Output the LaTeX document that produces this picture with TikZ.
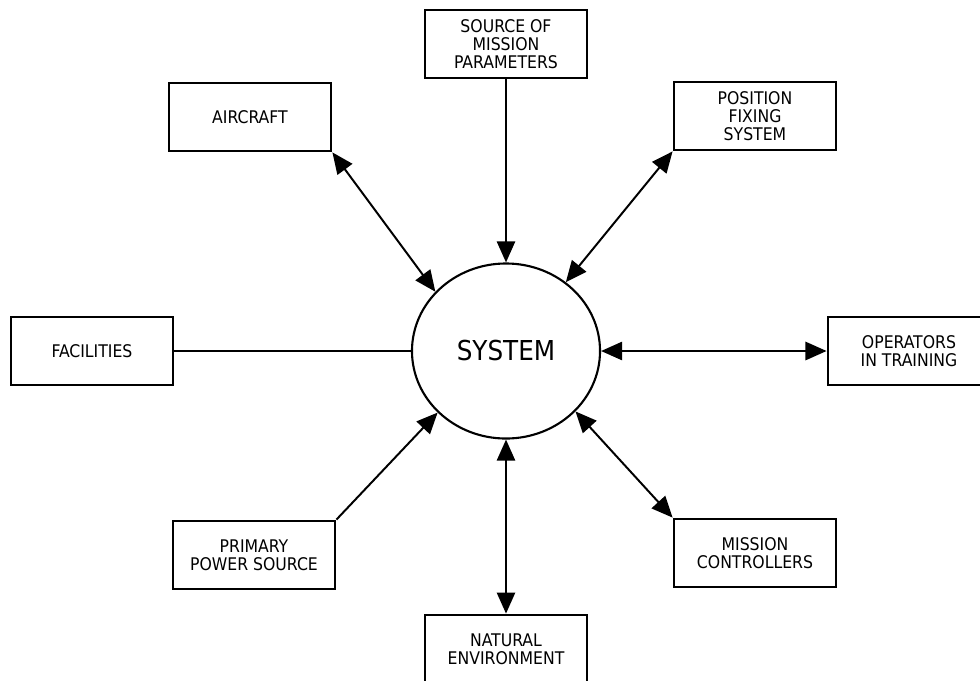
\documentclass[tikz,border=0pt]{standalone}
\usepackage{fontspec}
\setmainfont{DejaVu Sans Condensed}
\usetikzlibrary{shapes.geometric,arrows.meta}

\begin{document}
\begin{tikzpicture}
    [
        x=0.025cm, y=-0.025cm,
        >={Triangle[length=15pt,width=13pt]},
        every node/.style={
            font=\fontsize{12.4}{13}\selectfont, align=center
        },
        box/.style={draw, line width=2pt,
            minimum width=4.05cm, minimum height=1.7cm},
        hub/.style={ellipse, draw, line width=1.5pt,
            minimum width=4.7cm, minimum height=4.375cm,
            font=\fontsize{19.5}{22}\selectfont},
        link/.style={line width=1.4pt}
    ]
    \useasboundingbox (0,0) rectangle (980,680);

    % centre
    \node[hub] (sys) at (506,351) {SYSTEM};

    % surrounding boxes
    \node[box] (src) at (506,44) {SOURCE OF\\MISSION\\PARAMETERS};
    \node[box] (air) at (250,117) {AIRCRAFT};
    \node[box] (pos) at (755,116) {POSITION\\FIXING\\SYSTEM};
    \node[box] (fac) at (92,351) {FACILITIES};
    \node[box] (ops) at (909,351) {OPERATORS\\IN TRAINING};
    \node[box] (pwr) at (254,555) {PRIMARY\\POWER SOURCE};
    \node[box] (ctl) at (755,553) {MISSION\\CONTROLLERS};
    \node[box] (env) at (506,649) {NATURAL\\ENVIRONMENT};

    % connectors
    \draw[link,->] (src) -- (sys);
    \draw[link,<->] (air.south east) -- (sys.140);
    \draw[link,<->] (pos.south west) -- (sys.49);
    \draw[link] (fac) -- (sys);
    \draw[link,<->] (sys) -- (ops);
    \draw[link,->] (pwr.north east) -- (sys.222);
    \draw[link,<->] (ctl.north west) -- (sys.319);
    \draw[link,<->] (sys) -- (env);
\end{tikzpicture}
\end{document}
